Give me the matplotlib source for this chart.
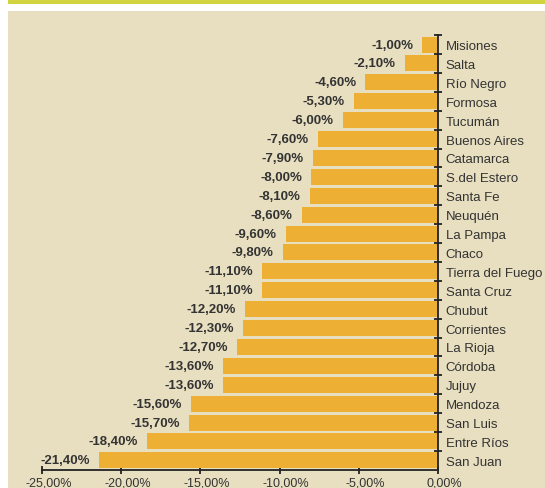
import matplotlib.pyplot as plt
import matplotlib.transforms as mtransforms
from matplotlib.patches import Rectangle

# Datos: variacion por provincia
provincias = ['Misiones', 'Salta', 'Río Negro', 'Formosa', 'Tucumán', 'Buenos Aires',
              'Catamarca', 'S.del Estero', 'Santa Fe', 'Neuquén', 'La Pampa', 'Chaco',
              'Tierra del Fuego', 'Santa Cruz', 'Chubut', 'Corrientes', 'La Rioja',
              'Córdoba', 'Jujuy', 'Mendoza', 'San Luis', 'Entre Ríos', 'San Juan']
valores = [-1.0, -2.1, -4.6, -5.3, -6.0, -7.6, -7.9, -8.0, -8.1, -8.6, -9.6, -9.8,
           -11.1, -11.1, -12.2, -12.3, -12.7, -13.6, -13.6, -15.6, -15.7, -18.4, -21.4]
xticks = [-25, -20, -15, -10, -5, 0]

W, H = 545, 489
fig = plt.figure(figsize=(W / 100, H / 100), dpi=100)
fig.patch.set_facecolor('white')

# Fondo: franja verde arriba y panel beige
fig.patches.append(Rectangle((8 / W, 1 - 5.3 / H), 1, 5.3 / H, transform=fig.transFigure,
                             facecolor='#d1d440', edgecolor='none', zorder=-5))
fig.patches.append(Rectangle((8 / W, 0), 1, 1 - 11.5 / H, transform=fig.transFigure,
                             facecolor='#e8dfc0', edgecolor='none', zorder=-5))

ax = fig.add_axes([42 / W, (H - 470.8) / H, 396 / W, (470.8 - 36.1) / H])
ax.set_facecolor('none')
ax.set_zorder(2)

txt = '#333333'

pos = list(range(len(provincias)))
ax.barh(pos, valores, height=0.85, color='#eeb034', zorder=2)

for p, v in zip(pos, valores):
    etiqueta = f'{v:.2f}%'.replace('.', ',')
    ax.annotate(etiqueta, (v, p), xytext=(-9, 0), textcoords='offset pixels',
                ha='right', va='center', fontsize=9.5, fontweight='bold', color=txt,
                family='Liberation Sans')

ax.set_xlim(-25, 0)
ax.set_ylim(len(provincias) - 0.5, -0.5)

for s in ['top', 'left']:
    ax.spines[s].set_visible(False)
ax.spines['right'].set_color('#222222')
ax.spines['bottom'].set_color('#222222')
ax.spines['right'].set_linewidth(1.3)
ax.spines['bottom'].set_linewidth(1.3)
ax.spines['right'].set_zorder(3)

ax.set_xticks(xticks)
ax.set_xticklabels([f'{t:.2f}%'.replace('.', ',') for t in xticks],
                   fontsize=9, color=txt, family='Liberation Sans')
ax.tick_params(axis='x', direction='inout', length=6, width=1.3, color='#222222', pad=1.5)
# las etiquetas del eje x van algo corridas a la derecha
desplazo = mtransforms.ScaledTranslation(6.5 / 100, 0, fig.dpi_scale_trans)
for lab in ax.get_xticklabels():
    lab.set_transform(lab.get_transform() + desplazo)

ax.yaxis.tick_right()
ax.set_yticks(pos)
ax.set_yticklabels(provincias, fontsize=9.5, color=txt, family='Liberation Sans')
ax.set_yticks([p - 0.5 for p in pos], minor=True)
ax.tick_params(axis='y', which='major', length=0, pad=5.5)
ax.tick_params(axis='y', which='minor', direction='inout', length=6, width=1.3,
               color='#222222')

fig.savefig('out.png', dpi=100)
